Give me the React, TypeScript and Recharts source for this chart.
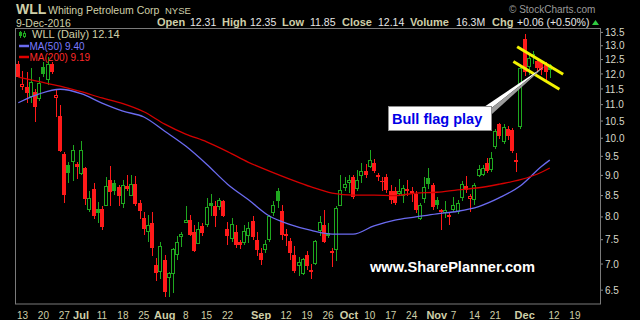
import React from 'react';
import { ComposedChart, Bar, Line, XAxis, YAxis, ReferenceLine } from 'recharts';

// trading days, 10 Jun 2016 .. 9 Dec 2016
const days = [
  '06-10', '06-13', '06-14', '06-15', '06-16', '06-17', '06-20', '06-21', '06-22', '06-23', '06-24', '06-27', '06-28', '06-29', '06-30',
  '07-01', '07-05', '07-06', '07-07', '07-08', '07-11', '07-12', '07-13', '07-14', '07-15', '07-18', '07-19', '07-20', '07-21', '07-22',
  '07-25', '07-26', '07-27', '07-28', '07-29',
  '08-01', '08-02', '08-03', '08-04', '08-05', '08-08', '08-09', '08-10', '08-11', '08-12', '08-15', '08-16', '08-17', '08-18', '08-19',
  '08-22', '08-23', '08-24', '08-25', '08-26', '08-29', '08-30', '08-31',
  '09-01', '09-02', '09-06', '09-07', '09-08', '09-09', '09-12', '09-13', '09-14', '09-15', '09-16', '09-19', '09-20', '09-21', '09-22',
  '09-23', '09-26', '09-27', '09-28', '09-29', '09-30',
  '10-03', '10-04', '10-05', '10-06', '10-07', '10-10', '10-11', '10-12', '10-13', '10-14', '10-17', '10-18', '10-19', '10-20', '10-21',
  '10-24', '10-25', '10-26', '10-27', '10-28', '10-31',
  '11-01', '11-02', '11-03', '11-04', '11-07', '11-08', '11-09', '11-10', '11-11', '11-14', '11-15', '11-16', '11-17', '11-18', '11-21',
  '11-22', '11-23', '11-25', '11-28', '11-29', '11-30',
  '12-01', '12-02', '12-05', '12-06', '12-07', '12-08', '12-09',
];

const opens = [
  12.35, 11.59, 11.55, 11.25, 11.41, 11.2, 12.25, 11.82, 12.34, 11.23, 10.64, 9.57, 9.27, 9.35, 9.29,
  9.06, 9.2, 8.18, 8.65, 8.18, 8.18, 8.26, 8.89, 8.8, 8.7, 8.3, 8.73, 8.49, 8.78, 8.32, 7.97, 7.67, 7.87, 6.99, 6.86,
  7.09, 6.73, 6.81, 7.2, 7.57, 7.88, 7.93, 7.66, 7.43, 7.8, 7.82, 8.33, 8.25, 8.25, 8.36, 7.74, 7.52, 7.66, 7.45, 7.45, 7.58, 7.9, 7.5,
  7.22, 7.3, 7.5, 8.1, 8.6, 8.14, 7.63, 7.48, 7.19, 6.98, 6.82, 7.19, 6.89, 7.01, 7.7, 7.81, 7.64, 7.27, 7.29, 8.26, 8.7,
  8.82, 8.97, 8.68, 9.0, 9.11, 9.24, 9.32, 9.0, 8.87, 8.95, 8.61, 8.61, 8.55, 8.49, 8.66, 8.61, 8.53, 7.97, 8.44, 8.93, 8.76,
  8.39, 8.16, 8.1, 8.05, 8.16, 8.12, 8.45, 8.73, 8.42, 8.41, 8.99, 9.03, 9.33, 9.15, 9.78, 10.4, 9.9, 10.26, 10.23, 9.36, 10.33,
  13.25, 12.26, 12.7, 12.45, 12.4, 12.3, 12.31,
];
const highs = [
  12.45, 12.1, 12.07, 12.2, 11.5, 11.91, 12.43, 12.6, 12.4, 11.46, 10.98, 9.62, 9.36, 9.81, 9.36,
  9.92, 9.23, 8.61, 8.8, 8.35, 8.25, 8.95, 9.25, 8.88, 8.76, 8.88, 9.0, 9.0, 8.98, 8.39, 8.12, 8.05, 8.12, 7.13, 7.46,
  7.19, 6.85, 7.32, 7.57, 7.67, 8.25, 8.05, 7.82, 7.88, 7.86, 8.44, 8.54, 8.36, 8.43, 8.4, 7.88, 7.97, 7.82, 7.5, 7.82, 7.88, 8.03, 7.67,
  7.32, 7.5, 8.05, 8.37, 8.68, 8.28, 7.74, 7.54, 7.36, 7.15, 7.12, 7.26, 7.01, 7.5, 8.02, 8.16, 7.86, 7.33, 8.25, 9.0, 8.97,
  9.02, 9.0, 9.14, 9.33, 9.29, 9.67, 9.43, 9.07, 8.97, 9.04, 8.76, 8.72, 8.9, 8.76, 8.88, 8.7, 8.61, 8.32, 8.97, 9.2, 8.82,
  8.47, 8.18, 8.37, 8.12, 8.47, 8.39, 8.85, 8.99, 8.53, 8.8, 9.26, 9.28, 9.45, 9.61, 10.27, 10.45, 10.42, 10.35, 10.3, 9.59, 12.25,
  13.45, 12.72, 12.8, 12.55, 12.45, 12.4, 12.35,
];
const lows = [
  11.88, 11.46, 11.04, 11.04, 10.47, 11.1, 11.91, 11.62, 12.0, 10.62, 9.62, 8.33, 8.81, 8.87, 8.92,
  9.01, 8.28, 8.12, 7.96, 7.86, 7.71, 8.25, 8.25, 8.51, 8.25, 8.2, 8.6, 8.48, 8.25, 7.96, 7.6, 7.46, 7.17, 6.67, 6.7,
  6.37, 6.38, 6.45, 7.09, 7.35, 7.86, 7.57, 7.25, 7.41, 7.58, 7.78, 8.02, 7.77, 8.15, 8.0, 7.39, 7.46, 7.33, 7.31, 7.39, 7.43, 7.5, 7.17,
  6.98, 7.22, 7.46, 8.02, 8.2, 7.5, 7.36, 7.09, 6.83, 6.77, 6.78, 6.89, 6.7, 6.99, 7.58, 7.43, 7.54, 6.94, 7.07, 8.25, 8.62,
  8.55, 8.41, 8.61, 8.8, 8.93, 9.19, 9.06, 8.86, 8.6, 8.55, 8.3, 8.28, 8.52, 8.32, 8.5, 8.35, 8.09, 7.92, 8.33, 8.65, 8.17,
  8.18, 7.72, 7.97, 7.82, 8.12, 8.06, 8.37, 8.55, 8.12, 8.28, 8.97, 8.98, 9.05, 9.1, 9.7, 9.98, 9.85, 9.95, 9.6, 9.08, 10.26,
  11.92, 11.95, 12.35, 12.1, 11.95, 11.8, 11.85,
];
const closes = [
  11.9, 11.65, 11.36, 11.7, 10.94, 11.68, 12.0, 12.34, 12.07, 11.3, 9.64, 8.51, 9.06, 9.66, 9.23,
  9.66, 8.42, 8.44, 8.02, 8.1, 7.78, 8.73, 8.58, 8.61, 8.49, 8.75, 8.65, 8.78, 8.3, 8.14, 7.73, 7.8, 7.33, 6.83, 7.35,
  6.47, 6.81, 7.29, 7.45, 7.62, 7.92, 7.6, 7.27, 7.71, 7.64, 8.22, 8.26, 8.02, 8.39, 8.02, 7.57, 7.84, 7.39, 7.38, 7.68, 7.74, 7.55, 7.28,
  7.09, 7.39, 8.02, 8.26, 8.36, 7.61, 7.58, 7.23, 6.86, 7.04, 7.1, 6.96, 6.85, 7.46, 7.88, 7.46, 7.57, 7.22, 8.2, 8.63, 8.76,
  8.88, 8.47, 8.88, 9.09, 9.01, 9.4, 9.11, 8.96, 8.83, 8.63, 8.39, 8.33, 8.6, 8.68, 8.6, 8.57, 8.16, 8.26, 8.7, 8.78, 8.23,
  8.28, 8.12, 8.15, 7.99, 8.26, 8.3, 8.78, 8.63, 8.47, 8.74, 9.15, 9.18, 9.11, 9.44, 10.18, 10.06, 10.3, 10.06, 9.64, 9.4, 12.17,
  12.05, 12.55, 12.6, 12.2, 12.12, 12.08, 12.14,
];

// moving averages at every fifth session
const maIdx = [0, 5, 10, 15, 20, 25, 30, 35, 40, 45, 50, 55, 60, 65, 70, 75, 80, 85, 90, 95, 100, 105, 110, 115, 120, 125, 127];
const ma50 = [11.06, 11.34, 11.49, 11.35, 11.05, 10.8, 10.62, 10.2, 9.78, 9.29, 8.78, 8.4, 8.02, 7.83, 7.7, 7.62, 7.62, 7.8, 7.93, 8.0, 8.07, 8.13, 8.24, 8.45, 8.74, 9.23, 9.4];
const ma200 = [11.89, 11.74, 11.59, 11.41, 11.21, 11.03, 10.78, 10.41, 10.12, 9.9, 9.63, 9.34, 9.11, 8.9, 8.71, 8.56, 8.51, 8.51, 8.5, 8.56, 8.58, 8.64, 8.69, 8.78, 8.89, 9.08, 9.19];

const tickIdx = [1, 6, 11, 15, 20, 25, 30, 35, 40, 45, 50, 58, 64, 69, 74, 79, 84, 89, 94, 100, 104, 109, 114, 121, 128, 133];
const tickText = ['13', '20', '27', 'Jul', '11', '18', '25', 'Aug', '8', '15', '22', 'Sep', '12', '19', '26', 'Oct', '10', '17', '24', 'Nov', '7', '14', '21', 'Dec', '12', '19'];
const yTicks = [6.5, 7, 7.5, 8, 8.5, 9, 9.5, 10, 10.5, 11, 11.5, 12, 12.5, 13, 13.5];

// flag channel drawn on the chart (session index, price)
const flagUpper = [{ x: 119.2, y: 12.96 }, { x: 130.2, y: 11.99 }];
const flagLower = [{ x: 118.3, y: 12.43 }, { x: 129.3, y: 11.49 }];

const GREEN = '#1fa81f';
const RED = '#ff1a1a';
const KHAKI = '#cfcfa8';
const FONT = '"Liberation Sans", Arial, sans-serif';

const rows = days.map((d, i) => {
  const k = maIdx.indexOf(i);
  return {
    i,
    date: d,
    open: opens[i],
    high: highs[i],
    low: lows[i],
    close: closes[i],
    prev: i > 0 ? closes[i - 1] : opens[i],
    range: [lows[i], highs[i]],
    ma50: k >= 0 ? ma50[k] : null,
    ma200: k >= 0 ? ma200[k] : null,
  };
});

function Candle(props: any) {
  const { x, y, width, height, payload } = props;
  if (!payload || height == null) return null;
  const { open, close, high, low, prev } = payload;
  const col = close >= prev ? GREEN : RED;
  const span = Math.log(high) - Math.log(low);
  const py = (v: number) => y + (span > 0 ? ((Math.log(high) - Math.log(v)) / span) * height : 0);
  const cx = Math.round(x + width / 2);
  const top = py(Math.max(open, close));
  const bh = Math.max(1, py(Math.min(open, close)) - top);
  return (
    <g shapeRendering="crispEdges">
      <line x1={cx + 0.5} x2={cx + 0.5} y1={y} y2={y + height} stroke={col} />
      {close > open ? (
        <rect x={cx - 1.5} y={top} width={3} height={bh} fill="#000" stroke={col} />
      ) : (
        <rect x={cx - 2} y={top} width={4} height={bh} fill={col} />
      )}
    </g>
  );
}

function XTick(props: any) {
  const { x, y, payload } = props;
  const label = tickText[tickIdx.indexOf(payload.value)] ?? '';
  const month = /[A-Z]/.test(label);
  return (
    <text x={x} y={y} dy={7} textAnchor="middle" fill={KHAKI} fontFamily={FONT}
      fontSize={month ? 11 : 10} fontWeight={month ? 'bold' : 'normal'}>
      {label}
    </text>
  );
}

export default function App() {
  return (
    <div style={{ position: 'fixed', left: 0, top: 0, width: 640, height: 320, background: '#000', fontFamily: FONT }}>
      <ComposedChart width={640} height={320} data={rows} margin={{ top: 28, right: 4, bottom: 0, left: 16 }}>
        <XAxis type="number" dataKey="i" domain={[-0.55, 139]} allowDataOverflow ticks={tickIdx} interval={0}
          tick={<XTick />} tickLine={false} axisLine={false} height={16} tickMargin={2} />
        <YAxis orientation="right" scale="log" domain={[6.25, 13.67]} allowDataOverflow ticks={yTicks} interval={0}
          width={36} tickFormatter={(v: number) => v.toFixed(1)} tickSize={3} tickMargin={2}
          tick={{ fill: '#d8d8c8', fontSize: 10, fontFamily: FONT }} tickLine={{ stroke: '#8a8a8a' }} axisLine={false} />
        <Bar dataKey="range" barSize={4} shape={<Candle />} isAnimationActive={false} />
        <Line dataKey="ma50" type="monotone" stroke="#6b6bf0" strokeWidth={1.3} dot={false} connectNulls isAnimationActive={false} />
        <Line dataKey="ma200" type="monotone" stroke="#d40000" strokeWidth={1.3} dot={false} connectNulls isAnimationActive={false} />
        <ReferenceLine segment={flagUpper} stroke="#f2f200" strokeWidth={3} ifOverflow="visible" />
        <ReferenceLine segment={flagLower} stroke="#f2f200" strokeWidth={3} ifOverflow="visible" />
      </ComposedChart>

      <svg width={640} height={320} style={{ position: 'absolute', left: 0, top: 0, pointerEvents: 'none' }} fontFamily={FONT}>
        <rect x={15.5} y={28.5} width={585} height={275.5} fill="none" stroke="#7a7a7a" />

        <text x={16} y={14} fill={KHAKI} fontSize={14} fontWeight="bold">WLL</text>
        <text x={48} y={14} fill={KHAKI} fontSize={10.5}>Whiting Petroleum Corp</text>
        <text x={165} y={14} fill={KHAKI} fontSize={9.5}>NYSE</text>
        <text x={16} y={26.5} fill={KHAKI} fontSize={10.5}>9-Dec-2016</text>
        <text x={157} y={26} fill={KHAKI} fontSize={11} fontWeight="bold">Open</text>
        <text x={190} y={26} fill="#e6e6e6" fontSize={10.5}>12.31</text>
        <text x={222} y={26} fill={KHAKI} fontSize={11} fontWeight="bold">High</text>
        <text x={250} y={26} fill="#e6e6e6" fontSize={10.5}>12.35</text>
        <text x={282} y={26} fill={KHAKI} fontSize={11} fontWeight="bold">Low</text>
        <text x={310} y={26} fill="#e6e6e6" fontSize={10.5}>11.85</text>
        <text x={342} y={26} fill={KHAKI} fontSize={11} fontWeight="bold">Close</text>
        <text x={378} y={26} fill="#e6e6e6" fontSize={10.5}>12.14</text>
        <text x={410} y={26} fill={KHAKI} fontSize={11} fontWeight="bold">Volume</text>
        <text x={456} y={26} fill="#e6e6e6" fontSize={10.5}>16.3M</text>
        <text x={492} y={26} fill={KHAKI} fontSize={11} fontWeight="bold">Chg</text>
        <text x={517} y={26} fill="#e6e6e6" fontSize={10.5}>+0.06 (+0.50%)</text>
        <polygon points="592,25 599,25 595.5,20" fill="#2ecc40" />
        <text x={509} y={12.5} fill="#9a9a9a" fontSize={10}>© StockCharts.com</text>

        <g shapeRendering="crispEdges">
          <line x1={20.5} x2={20.5} y1={31} y2={38} stroke={GREEN} />
          <rect x={19} y={32} width={3} height={4} fill={GREEN} />
          <line x1={24.5} x2={24.5} y1={31} y2={38} stroke={GREEN} />
          <rect x={23.5} y={33.5} width={2} height={3} fill="#000" stroke={GREEN} />
        </g>
        <text x={32} y={38} fill={KHAKI} fontSize={11}>WLL (Daily) 12.14</text>
        <line x1={19} x2={29} y1={46} y2={46} stroke="#6b6bf0" strokeWidth={2.5} />
        <text x={29.5} y={50} fill="#7a7aff" fontSize={10}>MA(50) 9.40</text>
        <line x1={19} x2={29} y1={57} y2={57} stroke="#e00000" strokeWidth={2.5} />
        <text x={29.5} y={61} fill="#ff2a2a" fontSize={10}>MA(200) 9.19</text>

        <polygon points="484,107 545,66 489,110" fill="#ffffff" />
        <polygon points="489,110 545,66 492,114" fill="#9c9c9c" />
        <rect x={388.5} y={106.5} width={103} height={24} fill="#ffffff" stroke="#8c8c8c" />
        <text x={392} y={124} fill="#0000e6" fontSize={14.5} fontWeight="bold">Bull flag play</text>

        <text x={370} y={272} fill="#ffffff" fontSize={14.6} fontWeight="bold">www.SharePlanner.com</text>
      </svg>
    </div>
  );
}
